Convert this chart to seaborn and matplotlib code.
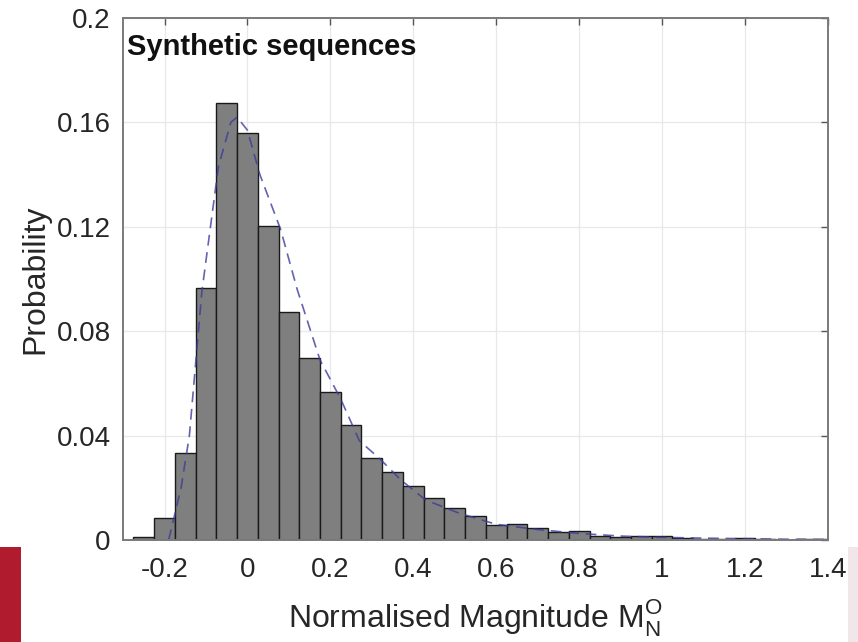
import numpy as np
import pandas as pd
import matplotlib
matplotlib.use("Agg")
import matplotlib.pyplot as plt
import seaborn as sns
from matplotlib.patches import Rectangle

# ---- data ----
bin_centers = [-0.25, -0.2, -0.15, -0.1, -0.05, 0.0, 0.05, 0.1, 0.15, 0.2, 0.25,
               0.3, 0.35, 0.4, 0.45, 0.5, 0.55, 0.6, 0.65, 0.7, 0.75, 0.8, 0.85,
               0.9, 0.95, 1.0, 1.05, 1.1, 1.15, 1.2, 1.25, 1.3, 1.35, 1.4]
probabilities = [0.0013, 0.0085, 0.0333, 0.0966, 0.1673, 0.1558, 0.1203, 0.0875,
                 0.0699, 0.0568, 0.0441, 0.0313, 0.0259, 0.0207, 0.0160, 0.0121,
                 0.0092, 0.0057, 0.0061, 0.0045, 0.0032, 0.0036, 0.0015, 0.0010,
                 0.0014, 0.0015, 0.0006, 0.0002, 0.0003, 0.0009, 0.0002, 0.0001,
                 0.0005, 0.0005]
fit_x = [-0.19, -0.16, -0.14, -0.11, -0.07, -0.04, -0.025, 0.0, 0.03, 0.08, 0.12,
         0.175, 0.225, 0.27, 0.32, 0.37, 0.43, 0.51, 0.6, 0.7, 0.8, 0.9, 1.0,
         1.1, 1.2, 1.3, 1.4]
fit_y = [0.0, 0.02, 0.04, 0.095, 0.143, 0.160, 0.162, 0.157, 0.140, 0.119, 0.096,
         0.069, 0.054, 0.038, 0.031, 0.023, 0.0153, 0.0103, 0.006, 0.004, 0.0025,
         0.0015, 0.001, 0.0007, 0.0005, 0.0003, 0.0002]
x_ticks = [-0.2, 0, 0.2, 0.4, 0.6, 0.8, 1, 1.2, 1.4]
x_ticklabels = ["-0.2", "0", "0.2", "0.4", "0.6", "0.8", "1", "1.2", "1.4"]
y_ticks = [0, 0.04, 0.08, 0.12, 0.16, 0.2]
y_ticklabels = ["0", "0.04", "0.08", "0.12", "0.16", "0.2"]
title_text = "Synthetic sequences"
x_label = r"Normalised Magnitude M$_\mathregular{N}^\mathregular{O}$"
y_label = "Probability"

# ---- style ----
sns.set_style("white")
plt.rcParams["font.family"] = ["Liberation Sans", "DejaVu Sans"]
plt.rcParams["mathtext.fontset"] = "custom"
plt.rcParams["mathtext.rm"] = "Liberation Sans"

fig = plt.figure(figsize=(8.58, 6.42), dpi=100)
ax = fig.add_axes([0.1434, 0.1589, 0.8216, 0.8131])

hist_df = pd.DataFrame({"m": bin_centers, "p": probabilities})
fit_df = pd.DataFrame({"m": fit_x, "p": fit_y})

binw = 0.05
sns.histplot(data=hist_df, x="m", weights="p", binwidth=binw,
             binrange=(bin_centers[0] - binw / 2, bin_centers[-1] + binw / 2),
             stat="count", color="#7f7f7f", edgecolor="#1a1a1a", linewidth=1.0,
             alpha=1.0, ax=ax)
sns.lineplot(data=fit_df, x="m", y="p", ax=ax, color="#3c3c9c",
             linewidth=1.2, alpha=0.8, sort=False)
ax.lines[-1].set_linestyle((0, (6.5, 4)))

ax.set_xlim(-0.3, 1.4)
ax.set_ylim(0, 0.2)
ax.set_xticks(x_ticks)
ax.set_xticklabels(x_ticklabels)
ax.set_yticks(y_ticks)
ax.set_yticklabels(y_ticklabels)
ax.tick_params(axis="both", which="major", direction="in", length=5, width=1,
               colors="#555555", labelcolor="#262626", labelsize=20,
               top=True, right=True)
ax.tick_params(axis="x", pad=12)
ax.tick_params(axis="y", pad=9)
ax.grid(True, color="#e8e8e8", linewidth=0.9)
ax.set_axisbelow(True)
for s in ax.spines.values():
    s.set_visible(True)
    s.set_color("#7a7a7a")
    s.set_linewidth(1.4)

ax.set_xlabel(x_label, fontsize=23, color="#262626", labelpad=10)
ax.set_ylabel(y_label, fontsize=23, color="#262626", labelpad=4)
ax.text(0.006, 0.972, title_text, transform=ax.transAxes, fontsize=21,
        fontweight="bold", color="#111111", va="top", ha="left")

# cropped edge artifacts in the reference image
fig.patches.append(Rectangle((0, 0), 21 / 858, 95 / 642, transform=fig.transFigure,
                             facecolor="#b01c2e", edgecolor="none", zorder=-1))
fig.patches.append(Rectangle((848 / 858, 0), 10 / 858, 95 / 642, transform=fig.transFigure,
                             facecolor="#f1e6ea", edgecolor="none", zorder=-1))

fig.savefig("out.png", dpi=100)
